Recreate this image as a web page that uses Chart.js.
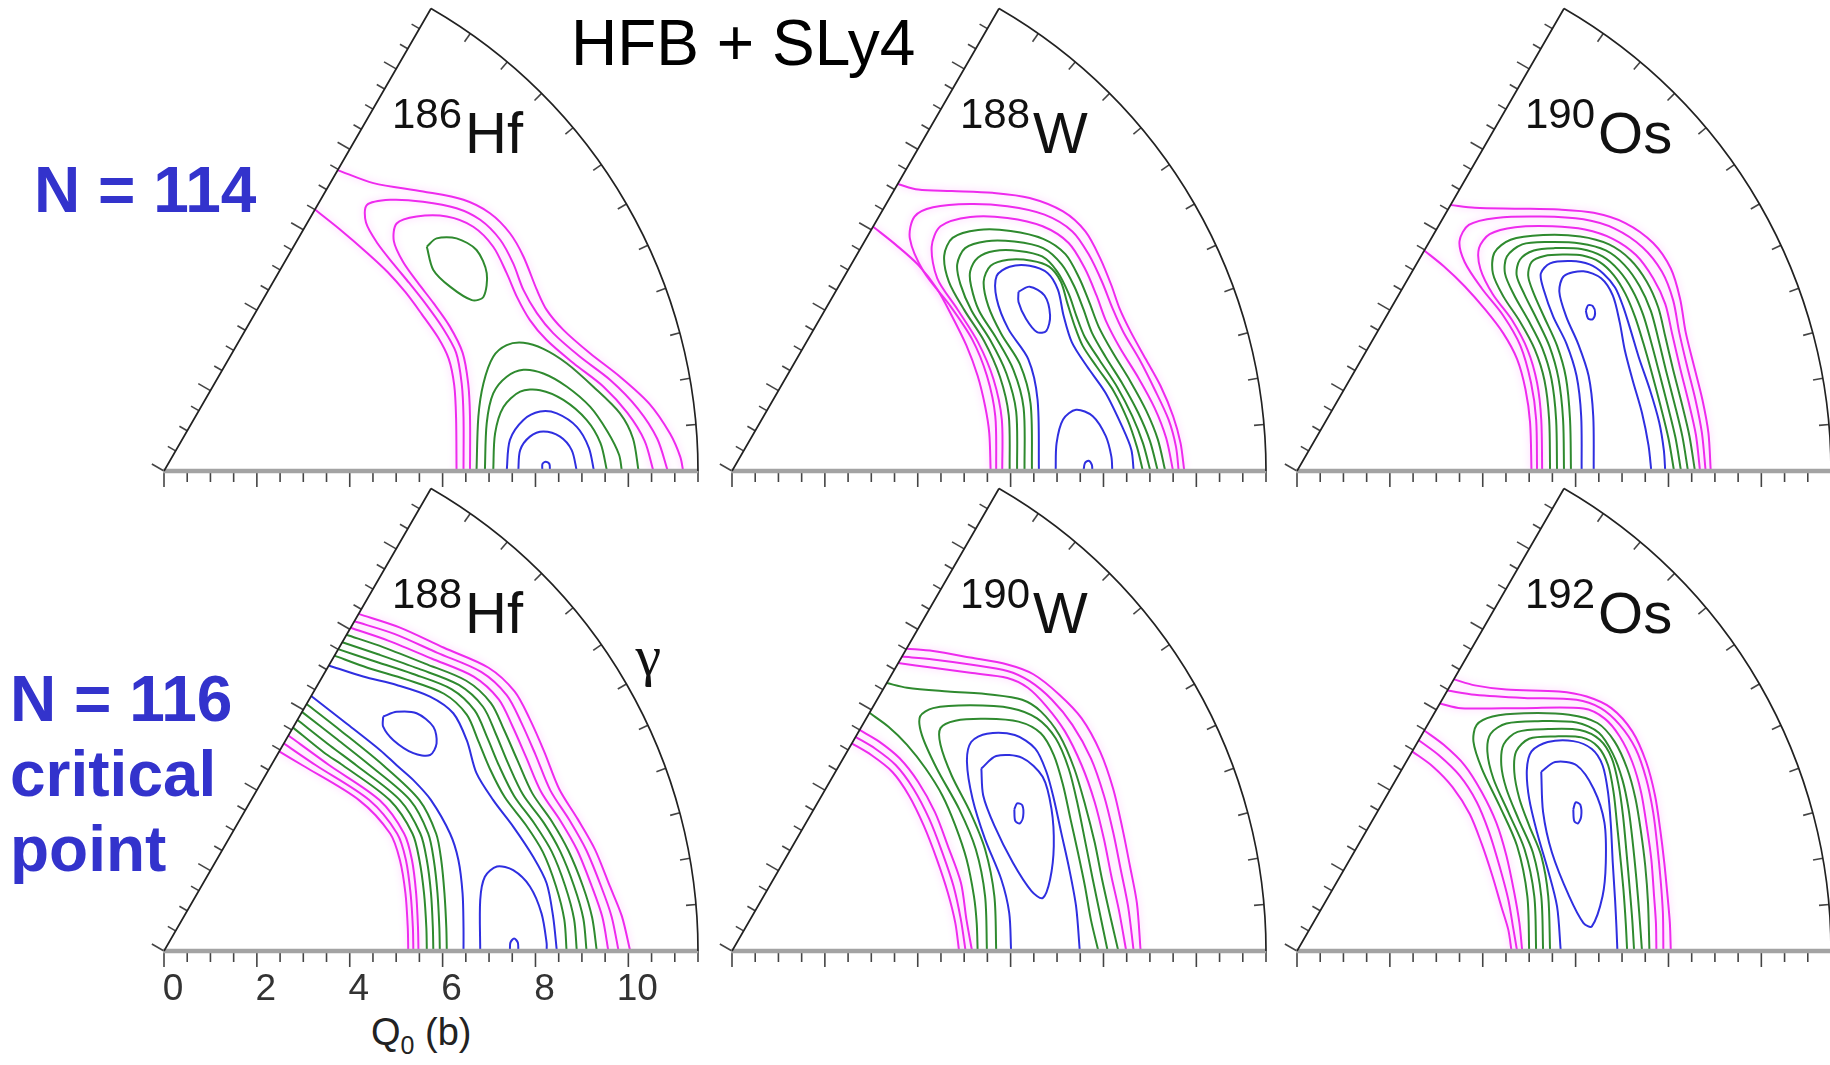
<!DOCTYPE html>
<html>
<head>
<meta charset="utf-8">
<title>HFB + SLy4 potential energy surfaces</title>
<script src="https://cdn.jsdelivr.net/npm/chart.js@4.4.1/dist/chart.umd.min.js"></script>
<style>
  html, body { margin: 0; padding: 0; background: #fff; }
  body { width: 1830px; height: 1065px; position: relative; overflow: hidden;
         font-family: "Liberation Sans", Arial, Helvetica, sans-serif; }
  canvas.pes { position: absolute; }
  .title { position: absolute; left: 571px; top: 11px; font-size: 64px; line-height: 1; color: #000; }
  .row { position: absolute; color: #3333cc; font-weight: bold; font-size: 64px; }
  .axis-title { position: absolute; left: 371px; top: 1013px; font-size: 38px; line-height: 1; color: #222; }
  .axis-title span { font-size: 25px; position: relative; top: 9px; }
</style>
</head>
<body>
<div class="title">HFB + SLy4</div>
<div class="row" style="left:34px; top:158px; line-height:1">N = 114</div>
<div class="row" style="left:10px; top:662px; line-height:75px">N = 116<br>critical<br>point</div>
<div class="axis-title">Q<span>0</span> (b)</div>

<script>
// sector: Q0 from 0 to q0Max (b), gamma from 0 to 60 deg
const q0Max = 11.5;
const gammaMax = 60;
const q0Labels = [0, 2, 4, 6, 8, 10];
const q0TickStep = 0.5;
const gammaTickStep = 5;

const massNumbers = ['186', '188', '190', '188', '190', '192'];
const elements = ['Hf', 'W', 'Os', 'Hf', 'W', 'Os'];

// contour bands: 0 = highest (magenta), 1 = middle (green), 2 = lowest (blue)
const HI = 0, MID = 1, LO = 2;

// contour lines, points in the (Q0 cos g, Q0 sin g) plane, in b
const hf186 = [
  [HI, [[3.74,6.48],[4.51,6.20],[5.58,6.02],[6.45,5.84],[7.02,5.55],[7.45,5.12],[7.74,4.62],[8.03,3.90],[8.24,3.47],[8.60,3.04],[9.18,2.53],[9.82,2.03],[10.45,1.45],[10.90,0.80],[11.12,0.30],[11.18,0]]],
  [HI, [[3.25,5.63],[3.79,5.20],[4.37,4.70],[4.82,4.28],[5.20,3.85],[5.55,3.38],[5.90,2.88],[6.13,2.42],[6.25,1.85],[6.29,1.15],[6.30,0]]],
  [HI, [[6.45,0],[6.45,1.17],[6.41,1.89],[6.29,2.55],[5.99,3.10],[5.62,3.62],[5.28,4.05],[4.95,4.45],[4.60,4.90],[4.35,5.35],[4.37,5.73],[4.87,5.84],[5.58,5.80],[6.30,5.66],[6.81,5.41],[7.24,4.98],[7.52,4.47],[7.74,3.90],[8.03,3.40],[8.38,2.97],[8.96,2.46],[9.61,1.96],[10.20,1.35],[10.62,0.70],[10.85,0]]],
  [HI, [[6.59,0],[6.59,1.17],[6.55,1.89],[6.43,2.55],[6.15,3.12],[5.80,3.62],[5.47,4.05],[5.15,4.50],[4.95,4.95],[5.01,5.33],[5.44,5.48],[6.09,5.48],[6.66,5.26],[7.09,4.83],[7.38,4.26],[7.60,3.75],[7.88,3.25],[8.24,2.82],[8.82,2.32],[9.46,1.82],[9.98,1.25],[10.35,0.65],[10.54,0]]],
  [MID, [[5.66,4.83],[5.87,5.01],[6.30,5.01],[6.73,4.76],[6.95,4.26],[6.88,3.75],[6.63,3.68],[6.16,3.97],[5.80,4.33],[5.66,4.83]]],
  [MID, [[6.73,0],[6.77,1.17],[6.88,1.89],[7.09,2.46],[7.38,2.71],[7.74,2.76],[8.17,2.63],[8.67,2.32],[9.24,1.82],[9.82,1.24],[10.10,0.70],[10.22,0]]],
  [MID, [[6.91,0],[6.95,1.03],[7.09,1.67],[7.38,2.03],[7.74,2.18],[8.17,2.10],[8.67,1.82],[9.18,1.38],[9.55,0.85],[9.80,0.35],[9.86,0]]],
  [MID, [[7.09,0],[7.13,0.81],[7.31,1.38],[7.67,1.71],[8.10,1.74],[8.60,1.53],[9.10,1.10],[9.40,0.60],[9.54,0]]],
  [LO, [[7.38,0],[7.45,0.67],[7.74,1.10],[8.10,1.28],[8.46,1.24],[8.89,0.95],[9.15,0.50],[9.26,0]]],
  [LO, [[7.63,0],[7.67,0.45],[7.88,0.74],[8.17,0.85],[8.53,0.74],[8.78,0.45],[8.89,0]]],
  [LO, [[8.15,0],[8.15,0.15],[8.22,0.20],[8.30,0.15],[8.31,0]]]
];

const w188 = [
  [HI, [[3.57,6.18],[4.01,6.06],[4.73,6.03],[5.61,5.99],[6.41,5.88],[7.13,5.59],[7.61,5.16],[7.93,4.58],[8.17,4.00],[8.35,3.49],[8.59,2.99],[8.91,2.41],[9.23,1.83],[9.50,1.18],[9.66,0.60],[9.74,0]]],
  [HI, [[3.04,5.26],[3.53,4.87],[4.01,4.44],[4.41,3.93],[4.73,3.35],[5.05,2.70],[5.29,2.05],[5.45,1.40],[5.54,0.82],[5.57,0]]],
  [HI, [[5.69,0],[5.67,1.18],[5.49,2.05],[5.17,2.84],[4.69,3.57],[4.13,4.29],[3.83,5.01],[3.93,5.48],[4.33,5.68],[5.13,5.75],[5.93,5.70],[6.73,5.52],[7.33,5.16],[7.69,4.65],[7.97,4.07],[8.20,3.49],[8.43,2.99],[8.77,2.41],[9.10,1.76],[9.40,1.11],[9.56,0.53],[9.62,0]]],
  [HI, [[5.82,0],[5.81,1.11],[5.63,1.98],[5.30,2.77],[4.85,3.49],[4.42,4.15],[4.30,4.83],[4.49,5.27],[5.13,5.47],[5.93,5.45],[6.69,5.27],[7.25,4.91],[7.60,4.36],[7.85,3.78],[8.05,3.24],[8.35,2.66],[8.75,2.01],[9.10,1.36],[9.35,0.71],[9.50,0]]],
  [MID, [[5.98,0],[5.96,1.20],[5.77,2.03],[5.43,2.80],[5.00,3.47],[4.67,4.08],[4.57,4.64],[4.75,5.02],[5.30,5.19],[6.00,5.17],[6.70,5.00],[7.18,4.67],[7.48,4.15],[7.70,3.62],[7.90,3.10],[8.20,2.55],[8.58,1.93],[8.92,1.30],[9.17,0.68],[9.33,0]]],
  [MID, [[6.14,0],[6.12,1.28],[5.91,2.10],[5.56,2.82],[5.16,3.45],[4.92,4.02],[4.85,4.45],[5.02,4.80],[5.48,4.95],[6.08,4.94],[6.70,4.80],[7.10,4.45],[7.37,3.98],[7.57,3.48],[7.75,2.98],[8.05,2.45],[8.42,1.86],[8.75,1.25],[9.00,0.65],[9.17,0]]],
  [MID, [[6.30,0],[6.28,1.36],[6.06,2.18],[5.68,2.88],[5.32,3.45],[5.15,3.98],[5.13,4.30],[5.30,4.60],[5.65,4.74],[6.18,4.74],[6.68,4.62],[7.00,4.30],[7.25,3.82],[7.42,3.33],[7.60,2.88],[7.92,2.38],[8.30,1.80],[8.62,1.18],[8.85,0.60],[9.01,0]]],
  [MID, [[6.46,0],[6.43,1.45],[6.20,2.30],[5.80,2.95],[5.52,3.55],[5.42,4.08],[5.57,4.42],[5.95,4.55],[6.45,4.53],[6.83,4.40],[7.08,4.08],[7.22,3.62],[7.37,3.15],[7.55,2.70],[7.85,2.25],[8.22,1.72],[8.52,1.10],[8.72,0.52],[8.85,0]]],
  [LO, [[6.61,0],[6.58,1.54],[6.38,2.41],[5.95,3.06],[5.70,3.71],[5.70,4.20],[5.98,4.40],[6.41,4.42],[6.80,4.26],[7.02,3.90],[7.14,3.35],[7.32,2.77],[7.64,2.26],[8.04,1.69],[8.40,0.96],[8.60,0.46],[8.65,0]]],
  [LO, [[6.17,3.86],[6.41,3.97],[6.73,3.78],[6.85,3.35],[6.77,3.02],[6.57,2.99],[6.33,3.28],[6.17,3.64],[6.17,3.86]]],
  [LO, [[6.97,0],[6.99,0.60],[7.13,1.11],[7.41,1.32],[7.77,1.18],[8.05,0.75],[8.17,0.31],[8.19,0]]],
  [LO, [[7.57,0],[7.60,0.17],[7.68,0.22],[7.75,0.13],[7.76,0]]]
];

const os190 = [
  [HI, [[3.31,5.73],[3.83,5.67],[4.74,5.65],[5.64,5.63],[6.39,5.56],[7.07,5.34],[7.67,4.91],[8.05,4.36],[8.25,3.71],[8.37,2.99],[8.55,2.26],[8.73,1.54],[8.86,0.82],[8.91,0]]],
  [HI, [[2.74,4.75],[3.16,4.41],[3.61,3.98],[4.06,3.47],[4.44,2.97],[4.74,2.41],[4.92,1.76],[5.02,1.04],[5.05,0]]],
  [HI, [[5.17,0],[5.15,1.11],[5.04,1.90],[4.81,2.70],[4.44,3.35],[3.98,3.93],[3.61,4.50],[3.50,4.95],[3.70,5.30],[4.29,5.45],[5.26,5.48],[6.17,5.42],[6.84,5.22],[7.44,4.82],[7.86,4.29],[8.10,3.68],[8.23,2.99],[8.40,2.26],[8.58,1.54],[8.72,0.82],[8.80,0]]],
  [HI, [[5.28,0],[5.26,1.11],[5.17,1.90],[4.97,2.60],[4.63,3.25],[4.22,3.80],[3.95,4.35],[3.92,4.80],[4.15,5.10],[4.70,5.25],[5.50,5.27],[6.20,5.20],[6.80,5.00],[7.30,4.65],[7.67,4.15],[7.93,3.60],[8.08,2.95],[8.25,2.22],[8.43,1.50],[8.59,0.78],[8.68,0]]],
  [MID, [[5.45,0],[5.43,1.11],[5.33,1.95],[5.12,2.62],[4.80,3.22],[4.45,3.75],[4.22,4.25],[4.25,4.70],[4.60,4.98],[5.30,5.08],[6.10,5.05],[6.72,4.88],[7.18,4.55],[7.53,4.08],[7.78,3.52],[7.93,2.90],[8.10,2.18],[8.28,1.48],[8.45,0.76],[8.57,0]]],
  [MID, [[5.60,0],[5.58,1.11],[5.48,1.98],[5.28,2.65],[4.98,3.25],[4.68,3.78],[4.48,4.25],[4.52,4.62],[4.85,4.88],[5.40,4.93],[6.10,4.90],[6.65,4.75],[7.05,4.44],[7.38,3.98],[7.62,3.45],[7.78,2.85],[7.95,2.15],[8.13,1.45],[8.30,0.74],[8.42,0]]],
  [MID, [[5.75,0],[5.73,1.11],[5.63,2.00],[5.44,2.68],[5.16,3.28],[4.90,3.80],[4.73,4.22],[4.80,4.55],[5.10,4.75],[5.55,4.80],[6.12,4.78],[6.58,4.62],[6.93,4.32],[7.22,3.90],[7.45,3.38],[7.62,2.80],[7.80,2.12],[7.98,1.42],[8.15,0.72],[8.27,0]]],
  [MID, [[5.90,0],[5.88,1.11],[5.79,2.02],[5.60,2.70],[5.33,3.30],[5.10,3.82],[4.98,4.20],[5.05,4.50],[5.33,4.63],[5.72,4.66],[6.15,4.64],[6.52,4.50],[6.82,4.22],[7.07,3.82],[7.28,3.32],[7.46,2.75],[7.65,2.08],[7.83,1.40],[8.00,0.70],[8.12,0]]],
  [LO, [[6.13,0],[6.12,1.18],[6.02,2.05],[5.80,2.75],[5.52,3.32],[5.32,3.88],[5.25,4.25],[5.45,4.47],[5.90,4.52],[6.30,4.45],[6.60,4.25],[6.85,3.95],[7.02,3.55],[7.18,3.05],[7.36,2.45],[7.60,1.75],[7.80,1.05],[7.90,0.45],[7.93,0]]],
  [LO, [[6.39,0],[6.38,1.18],[6.28,2.05],[6.05,2.75],[5.80,3.32],[5.65,3.86],[5.75,4.20],[6.17,4.30],[6.55,4.15],[6.80,3.78],[6.95,3.20],[7.06,2.60],[7.23,1.95],[7.43,1.25],[7.57,0.55],[7.63,0]]],
  [LO, [[6.22,3.45],[6.27,3.57],[6.37,3.55],[6.42,3.40],[6.37,3.27],[6.27,3.28],[6.22,3.45]]]
];

const hf188 = [
  [HI, [[4.19,7.26],[5.07,6.97],[6.03,6.53],[6.99,6.10],[7.55,5.59],[7.87,5.01],[8.19,4.29],[8.51,3.49],[8.91,2.84],[9.28,2.19],[9.60,1.40],[9.86,0.75],[10.04,0]]],
  [HI, [[4.10,7.10],[4.96,6.83],[5.89,6.42],[6.83,6.01],[7.38,5.51],[7.69,4.93],[8.00,4.23],[8.32,3.46],[8.73,2.82],[9.09,2.18],[9.41,1.40],[9.64,0.74],[9.79,0]]],
  [HI, [[4.02,6.96],[4.84,6.68],[5.76,6.30],[6.67,5.91],[7.21,5.42],[7.50,4.85],[7.80,4.17],[8.12,3.43],[8.54,2.80],[8.90,2.17],[9.21,1.40],[9.44,0.73],[9.57,0]]],
  [MID, [[3.93,6.81],[4.73,6.54],[5.62,6.19],[6.51,5.82],[7.04,5.34],[7.32,4.77],[7.61,4.11],[7.93,3.40],[8.36,2.78],[8.71,2.16],[9.02,1.40],[9.22,0.72],[9.32,0]]],
  [MID, [[3.84,6.65],[4.61,6.39],[5.48,6.08],[6.35,5.73],[6.87,5.26],[7.14,4.69],[7.41,4.04],[7.73,3.37],[8.18,2.76],[8.53,2.15],[8.83,1.40],[9.03,0.70],[9.10,0]]],
  [MID, [[3.75,6.50],[4.50,6.25],[5.35,5.97],[6.19,5.64],[6.69,5.18],[6.96,4.60],[7.22,3.98],[7.54,3.34],[7.98,2.74],[8.35,2.14],[8.64,1.40],[8.83,0.69],[8.89,0]]],
  [MID, [[3.67,6.36],[4.38,6.10],[5.21,5.85],[6.03,5.54],[6.52,5.09],[6.77,4.52],[7.02,3.92],[7.34,3.31],[7.79,2.72],[8.16,2.13],[8.44,1.40],[8.62,0.68],[8.67,0]]],
  [LO, [[3.55,6.15],[4.29,5.91],[5.01,5.73],[5.73,5.48],[6.23,5.12],[6.52,4.54],[6.73,3.83],[7.09,3.25],[7.52,2.68],[7.95,2.03],[8.24,1.46],[8.38,0.74],[8.46,0]]],
  [LO, [[4.72,5.05],[5.01,5.15],[5.44,5.12],[5.80,4.83],[5.87,4.47],[5.73,4.22],[5.37,4.26],[4.94,4.54],[4.72,4.83],[4.72,5.05]]],
  [LO, [[6.81,0],[6.81,1.10],[6.91,1.60],[7.17,1.82],[7.52,1.74],[7.88,1.39],[8.13,0.81],[8.24,0.17],[8.24,0]]],
  [LO, [[7.45,0],[7.46,0.18],[7.54,0.27],[7.62,0.18],[7.63,0]]],
  [LO, [[3.17,5.49],[3.93,4.90],[4.65,4.33],[5.01,4.00],[5.37,3.68],[5.75,3.25],[6.16,2.53],[6.34,1.96],[6.43,1.24],[6.45,0.50],[6.45,0]]],
  [MID, [[3.07,5.32],[3.80,4.75],[4.72,4.00],[5.50,3.25],[5.86,2.53],[5.97,1.96],[6.04,1.24],[6.08,0.50],[6.09,0]]],
  [MID, [[2.97,5.15],[3.70,4.58],[4.43,4.00],[5.30,3.25],[5.69,2.53],[5.81,1.96],[5.89,1.24],[5.93,0.50],[5.94,0]]],
  [MID, [[2.87,4.98],[3.58,4.42],[4.14,4.00],[5.08,3.25],[5.52,2.53],[5.66,1.96],[5.75,1.24],[5.79,0.50],[5.80,0]]],
  [MID, [[2.78,4.81],[3.45,4.27],[3.85,4.00],[4.86,3.25],[5.35,2.53],[5.50,1.96],[5.60,1.24],[5.65,0.50],[5.66,0]]],
  [HI, [[2.68,4.64],[3.56,4.00],[4.64,3.25],[5.17,2.53],[5.34,1.96],[5.43,1.24],[5.47,0.50],[5.48,0]]],
  [HI, [[2.58,4.47],[3.27,4.00],[4.42,3.25],[5.02,2.53],[5.21,1.96],[5.31,1.24],[5.36,0.50],[5.37,0]]],
  [HI, [[2.48,4.30],[2.98,4.00],[4.20,3.25],[4.87,2.53],[5.08,1.96],[5.20,1.24],[5.25,0.50],[5.26,0]]]
];

const w190 = [
  [HI, [[3.76,6.51],[4.33,6.46],[5.13,6.32],[5.93,6.17],[6.49,5.96],[7.05,5.52],[7.53,5.01],[7.93,4.29],[8.21,3.49],[8.41,2.63],[8.57,1.83],[8.72,1.03],[8.80,0]]],
  [HI, [[3.66,6.34],[4.33,6.28],[5.13,6.17],[5.93,6.03],[6.41,5.81],[6.89,5.41],[7.33,4.87],[7.73,4.15],[8.01,3.35],[8.21,2.55],[8.37,1.76],[8.53,0.96],[8.65,0]]],
  [HI, [[3.58,6.20],[4.33,6.10],[5.13,5.99],[5.93,5.88],[6.37,5.67],[6.77,5.27],[7.17,4.73],[7.53,4.00],[7.81,3.21],[8.01,2.41],[8.17,1.61],[8.33,0.89],[8.49,0]]],
  [MID, [[3.33,5.77],[3.77,5.67],[4.65,5.59],[5.61,5.52],[6.25,5.41],[6.65,5.16],[7.05,4.65],[7.37,3.93],[7.61,3.13],[7.81,2.34],[7.97,1.54],[8.13,0.82],[8.32,0]]],
  [MID, [[5.49,0],[5.45,1.18],[5.25,2.19],[4.89,3.06],[4.41,3.93],[4.09,4.65],[4.05,5.05],[4.33,5.23],[5.13,5.29],[6.01,5.23],[6.57,5.01],[6.97,4.58],[7.25,3.93],[7.45,3.13],[7.61,2.34],[7.77,1.54],[7.92,0.82],[8.09,0]]],
  [MID, [[5.69,0],[5.65,1.18],[5.45,2.19],[5.13,2.99],[4.73,3.78],[4.49,4.44],[4.49,4.80],[4.81,4.96],[5.45,5.00],[6.17,4.94],[6.65,4.69],[6.93,4.22],[7.13,3.57],[7.29,2.84],[7.45,2.12],[7.60,1.40],[7.73,0.67],[7.89,0]]],
  [MID, [[2.96,5.13],[3.37,4.83],[3.77,4.44],[4.17,3.93],[4.53,3.35],[4.81,2.70],[5.05,1.98],[5.21,1.18],[5.27,0.60],[5.29,0]]],
  [LO, [[6.01,0],[5.97,0.82],[5.80,1.54],[5.45,2.41],[5.18,3.28],[5.06,4.07],[5.15,4.50],[5.49,4.68],[6.09,4.65],[6.53,4.36],[6.77,3.86],[6.93,3.28],[7.09,2.55],[7.25,1.83],[7.41,0.96],[7.49,0]]],
  [LO, [[5.37,3.93],[5.69,4.20],[6.25,4.16],[6.69,3.75],[6.88,3.06],[6.93,2.26],[6.85,1.54],[6.69,1.14],[6.45,1.29],[6.05,1.90],[5.65,2.70],[5.41,3.35],[5.37,3.93]]],
  [LO, [[6.08,3.05],[6.14,3.18],[6.25,3.14],[6.27,2.90],[6.20,2.75],[6.10,2.80],[6.08,3.05]]],
  [HI, [[2.75,4.76],[3.17,4.51],[3.61,4.15],[4.01,3.64],[4.37,2.99],[4.65,2.26],[4.93,1.47],[5.05,0.67],[5.17,0]]],
  [HI, [[2.66,4.61],[3.08,4.36],[3.53,4.00],[3.91,3.49],[4.25,2.84],[4.53,2.12],[4.77,1.40],[4.93,0.67],[5.03,0]]],
  [HI, [[2.58,4.47],[3.00,4.22],[3.45,3.86],[3.81,3.35],[4.13,2.70],[4.41,1.98],[4.65,1.25],[4.81,0.60],[4.89,0]]]
];

const os192 = [
  [HI, [[3.38,5.85],[3.83,5.72],[4.51,5.63],[5.64,5.59],[6.24,5.48],[6.77,5.23],[7.22,4.73],[7.52,4.07],[7.71,3.35],[7.82,2.63],[7.91,1.90],[7.98,1.18],[8.03,0.60],[8.05,0]]],
  [HI, [[3.24,5.61],[3.83,5.52],[4.89,5.45],[6.02,5.41],[6.54,5.23],[6.95,4.87],[7.29,4.36],[7.52,3.71],[7.67,2.99],[7.76,2.26],[7.83,1.54],[7.88,0.82],[7.89,0]]],
  [HI, [[3.08,5.33],[3.53,5.23],[4.89,5.23],[6.17,5.22],[6.62,5.01],[6.95,4.62],[7.22,4.07],[7.41,3.42],[7.53,2.70],[7.63,1.98],[7.69,1.18],[7.73,0.60],[7.74,0]]],
  [MID, [[5.00,0],[4.96,1.18],[4.74,2.26],[4.36,3.13],[3.98,3.93],[3.80,4.51],[3.87,4.87],[4.21,5.05],[4.89,5.12],[5.86,5.09],[6.47,4.91],[6.84,4.51],[7.11,3.93],[7.29,3.28],[7.41,2.55],[7.50,1.83],[7.56,1.03],[7.59,0]]],
  [MID, [[5.15,0],[5.11,1.18],[4.90,2.19],[4.55,2.99],[4.23,3.71],[4.10,4.29],[4.17,4.68],[4.51,4.90],[5.19,4.95],[6.02,4.92],[6.50,4.70],[6.80,4.25],[7.01,3.68],[7.14,3.06],[7.23,2.34],[7.31,1.54],[7.37,0.82],[7.43,0]]],
  [MID, [[5.30,0],[5.26,1.18],[5.08,2.12],[4.77,2.84],[4.51,3.49],[4.40,4.00],[4.45,4.45],[4.75,4.72],[5.41,4.78],[6.09,4.76],[6.52,4.55],[6.78,4.15],[6.93,3.55],[7.02,2.92],[7.09,2.19],[7.16,1.40],[7.22,0.67],[7.26,0]]],
  [MID, [[5.45,0],[5.41,1.18],[5.26,2.05],[5.00,2.70],[4.79,3.28],[4.68,3.85],[4.72,4.30],[5.00,4.57],[5.56,4.62],[6.13,4.60],[6.48,4.40],[6.70,4.00],[6.82,3.40],[6.89,2.75],[6.96,2.05],[7.03,1.32],[7.08,0.60],[7.11,0]]],
  [LO, [[5.68,0],[5.60,0.96],[5.40,1.76],[5.17,2.55],[5.00,3.28],[4.95,3.90],[5.05,4.30],[5.40,4.50],[5.95,4.52],[6.35,4.35],[6.58,4.00],[6.70,3.40],[6.76,2.70],[6.80,1.90],[6.85,1.10],[6.88,0.50],[6.90,0]]],
  [LO, [[5.26,3.86],[5.56,4.07],[6.02,4.00],[6.39,3.49],[6.62,2.77],[6.65,1.90],[6.58,1.18],[6.35,0.53],[6.17,0.60],[5.86,1.18],[5.49,2.12],[5.30,2.99],[5.26,3.86]]],
  [LO, [[5.95,3.05],[6.00,3.20],[6.10,3.15],[6.12,2.90],[6.05,2.75],[5.97,2.80],[5.95,3.05]]],
  [HI, [[2.74,4.75],[3.16,4.44],[3.61,4.00],[3.98,3.42],[4.29,2.77],[4.51,2.05],[4.68,1.25],[4.79,0.60],[4.85,0]]],
  [HI, [[2.62,4.54],[3.05,4.22],[3.50,3.78],[3.87,3.21],[4.14,2.55],[4.36,1.83],[4.55,1.11],[4.65,0.53],[4.74,0]]],
  [HI, [[2.48,4.30],[2.93,3.97],[3.35,3.53],[3.72,2.95],[3.98,2.30],[4.21,1.61],[4.40,0.96],[4.55,0.46],[4.62,0]]]
];

const surfaces = [hf186, w188, os190, hf188, w190, os192];

// ---- layout and styles ----
const bandColors = ['#ee2aee', '#2f8a2f', '#2f2fe0'];
const bandGlow = ['rgba(255, 110, 255, 0.45)', null, null];
const origins = [[164, 471], [732, 471], [1297, 471], [164, 951], [732, 951], [1297, 951]];
const plotW = 534, plotH = 462;            // pixels spanned by Q0 = q0Max and by the apex height
const yMax = q0Max * plotH / plotW;        // keeps the two axes isotropic
const axisBand = 62;                       // room kept under the wedge for the Q0 tick labels
const labelAt = [4.91, 6.85];              // nuclide label anchor, b
const gammaAt = [10.43, 6.27];             // gamma label position, b
const sansFont = '"Liberation Sans", Arial, Helvetica, sans-serif';

const rad = Math.PI / 180;

function seg(ctx, x1, y1, x2, y2) {
  ctx.beginPath();
  ctx.moveTo(x1, y1);
  ctx.lineTo(x2, y2);
  ctx.stroke();
}

// draws the 0-60 degree wedge, its ticks and the texts; also clips the contours to it
const sectorPlugin = {
  id: 'sector',
  beforeDatasetsDraw(chart) {
    const {ctx, scales: {x, y}} = chart;
    const ox = x.getPixelForValue(0), oy = y.getPixelForValue(0);
    const r = x.getPixelForValue(q0Max) - ox;
    ctx.save();
    ctx.beginPath();
    ctx.moveTo(ox, oy);
    ctx.arc(ox, oy, r + 1, -gammaMax * rad, 0);
    ctx.closePath();
    ctx.clip();
  },
  // soft halo around the highest contours
  beforeDatasetDraw(chart, args) {
    const glow = bandGlow[args.meta._dataset.band];
    if (glow) {
      chart.ctx.shadowColor = glow;
      chart.ctx.shadowBlur = 7;
    }
  },
  afterDatasetDraw(chart) {
    chart.ctx.shadowColor = 'rgba(0,0,0,0)';
    chart.ctx.shadowBlur = 0;
  },
  afterDatasetsDraw(chart, args, opts) {
    const {ctx, scales: {x, y}} = chart;
    ctx.restore();
    const ox = x.getPixelForValue(0), oy = y.getPixelForValue(0);
    const r = x.getPixelForValue(q0Max) - ox;
    const unit = r / q0Max;
    const c60 = Math.cos(gammaMax * rad), s60 = Math.sin(gammaMax * rad);

    ctx.save();
    ctx.lineCap = 'butt';

    // ticks along the Q0 axis (down) and the 60 degree edge (outward)
    ctx.strokeStyle = '#444';
    ctx.lineWidth = 1.6;
    for (let k = 0; k * q0TickStep <= q0Max + 1e-6; k++) {
      const q = k * q0TickStep;
      const len = k % 4 === 0 ? 14 : 9;
      seg(ctx, ox + q * unit, oy, ox + q * unit, oy + 2 + len);
      if (q < q0Max - 0.1) {
        const ex = ox + q * unit * c60, ey = oy - q * unit * s60;
        seg(ctx, ex, ey, ex - len * s60, ey - len * c60);
      }
    }
    // ticks on the arc, pointing inward
    for (let g = gammaTickStep; g < gammaMax; g += gammaTickStep) {
      const cx = Math.cos(g * rad), sy = Math.sin(g * rad);
      seg(ctx, ox + r * cx, oy - r * sy, ox + (r - 10) * cx, oy - (r - 10) * sy);
    }

    // Q0 axis line
    ctx.strokeStyle = '#a3a3a3';
    ctx.lineWidth = 4.5;
    seg(ctx, ox - 1, oy, ox + r, oy);

    // 60 degree edge and arc
    ctx.strokeStyle = '#222';
    ctx.lineWidth = 1.7;
    ctx.beginPath();
    ctx.moveTo(ox, oy);
    ctx.lineTo(ox + r * c60, oy - r * s60);
    ctx.arc(ox, oy, r, -gammaMax * rad, 0);
    ctx.stroke();

    // nuclide label with the mass number as a superscript
    const lx = x.getPixelForValue(labelAt[0]), ly = y.getPixelForValue(labelAt[1]);
    ctx.fillStyle = '#111';
    ctx.textBaseline = 'alphabetic';
    ctx.textAlign = 'left';
    ctx.font = '42px ' + sansFont;
    ctx.fillText(opts.mass, lx, ly - 25);
    const w = ctx.measureText(opts.mass).width;
    ctx.font = '58px ' + sansFont;
    ctx.fillText(opts.symbol, lx + w + 3, ly);

    if (opts.gamma) {
      ctx.font = '58px "Liberation Serif", "DejaVu Serif", serif';
      ctx.textAlign = 'center';
      ctx.textBaseline = 'middle';
      ctx.fillText('\u03b3', x.getPixelForValue(gammaAt[0]), y.getPixelForValue(gammaAt[1]));
    }
    ctx.restore();
  }
};

surfaces.forEach((contours, i) => {
  const withAxis = i === 3;
  const pad = {left: 34, right: 14, top: 14, bottom: withAxis ? 8 : 20};
  const canvas = document.createElement('canvas');
  canvas.className = 'pes';
  canvas.width = pad.left + plotW + pad.right;
  canvas.height = pad.top + plotH + pad.bottom + (withAxis ? axisBand : 0);
  canvas.style.left = (origins[i][0] - pad.left) + 'px';
  canvas.style.top = (origins[i][1] - plotH - pad.top) + 'px';
  document.body.appendChild(canvas);

  // only the lower-left wedge carries the Q0 tick labels
  const xScale = {
    type: 'linear', min: 0, max: q0Max,
    display: withAxis,
    grid: {display: false, drawTicks: false},
    border: {display: false}
  };
  if (withAxis) {
    xScale.afterFit = (scale) => { scale.height = axisBand; };
    xScale.afterBuildTicks = (scale) => { scale.ticks = q0Labels.map(v => ({value: v})); };
    xScale.ticks = {
      autoSkip: false, maxRotation: 0, padding: 17, labelOffset: 9,
      color: '#333', font: {size: 37, family: sansFont}
    };
  }

  new Chart(canvas, {
    type: 'scatter',
    data: {
      datasets: contours.map(([band, pts]) => ({
        band: band,
        data: pts.map(([qx, qy]) => ({x: qx, y: qy})),
        showLine: true,
        borderColor: bandColors[band],
        borderWidth: 2,
        pointRadius: 0,
        tension: 0.3,
        fill: false
      }))
    },
    options: {
      responsive: false,
      animation: false,
      events: [],
      layout: {padding: pad},
      plugins: {
        legend: {display: false},
        tooltip: {enabled: false},
        sector: {mass: massNumbers[i], symbol: elements[i], gamma: withAxis}
      },
      scales: {
        x: xScale,
        y: {type: 'linear', min: 0, max: yMax, display: false}
      }
    },
    plugins: [sectorPlugin]
  });
});
</script>
</body>
</html>
